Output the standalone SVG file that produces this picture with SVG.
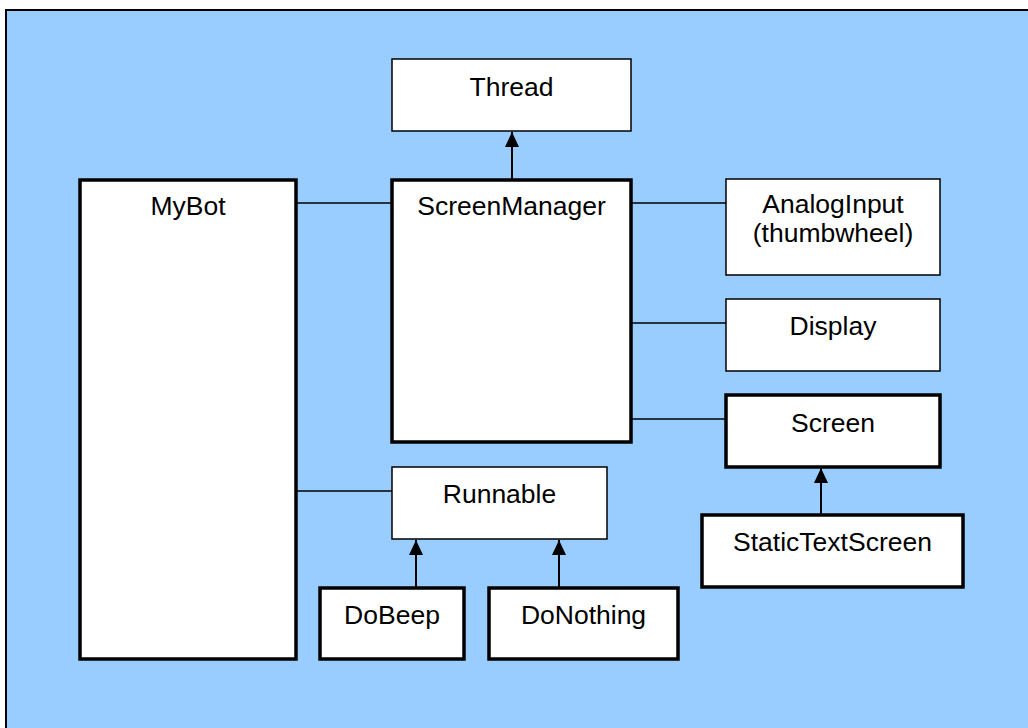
<svg xmlns="http://www.w3.org/2000/svg" width="1028" height="728" viewBox="0 0 1028 728">
<style>
.bg{fill:#99CCFF;stroke:#000;stroke-width:2}
.thin{fill:#fff;stroke:#000;stroke-width:1.5}
.thick{fill:#fff;stroke:#000;stroke-width:3.5}
.lbl{font-family:"Liberation Sans",Arial,sans-serif;font-size:26.5px;fill:#000;text-anchor:middle}
.assoc{stroke:#000;stroke-width:1.5;fill:none}
.gen{stroke:#000;stroke-width:2;fill:none}
</style>
<defs>
<marker id="tri" viewBox="0 0 15 14" refX="15" refY="7" markerWidth="15" markerHeight="14" markerUnits="userSpaceOnUse" orient="auto">
<path d="M0,0 L15,7 L0,14 Z" fill="#000"/>
</marker>
</defs>
<rect class="bg" x="6" y="10" width="1030" height="730"/>
<g id="connectors">
<line class="assoc" x1="296" y1="203" x2="392" y2="203"/>
<line class="assoc" x1="631" y1="203" x2="726" y2="203"/>
<line class="assoc" x1="631" y1="323" x2="726" y2="323"/>
<line class="assoc" x1="631" y1="419" x2="726" y2="419"/>
<line class="assoc" x1="296" y1="491" x2="392" y2="491"/>
<line class="gen" x1="512" y1="180" x2="512" y2="132" marker-end="url(#tri)"/>
<line class="gen" x1="821" y1="515" x2="821" y2="468" marker-end="url(#tri)"/>
<line class="gen" x1="416" y1="588" x2="416" y2="540" marker-end="url(#tri)"/>
<line class="gen" x1="559" y1="588" x2="559" y2="540" marker-end="url(#tri)"/>
</g>
<g id="thread"><rect class="thin" x="392" y="59" width="239" height="72"/><text class="lbl" x="511.5" y="96">Thread</text></g>
<g id="mybot"><rect class="thick" x="80" y="180" width="216" height="479"/><text class="lbl" x="188" y="215">MyBot</text></g>
<g id="screenmanager"><rect class="thick" x="392" y="180" width="239" height="262"/><text class="lbl" x="511.5" y="215">ScreenManager</text></g>
<g id="analoginput"><rect class="thin" x="726" y="179" width="214" height="96"/><text class="lbl" x="833" y="213">AnalogInput</text><text class="lbl" x="833" y="242">(thumbwheel)</text></g>
<g id="display"><rect class="thin" x="726" y="299" width="214" height="72"/><text class="lbl" x="833" y="335">Display</text></g>
<g id="screen"><rect class="thick" x="726" y="395" width="214" height="72"/><text class="lbl" x="833" y="432">Screen</text></g>
<g id="statictextscreen"><rect class="thick" x="702" y="515" width="261" height="72"/><text class="lbl" x="832.5" y="551">StaticTextScreen</text></g>
<g id="runnable"><rect class="thin" x="392" y="467" width="215" height="72"/><text class="lbl" x="499.5" y="503">Runnable</text></g>
<g id="dobeep"><rect class="thick" x="320" y="588" width="144" height="71"/><text class="lbl" x="392" y="624">DoBeep</text></g>
<g id="donothing"><rect class="thick" x="489" y="588" width="189" height="71"/><text class="lbl" x="583.5" y="624">DoNothing</text></g>
</svg>
